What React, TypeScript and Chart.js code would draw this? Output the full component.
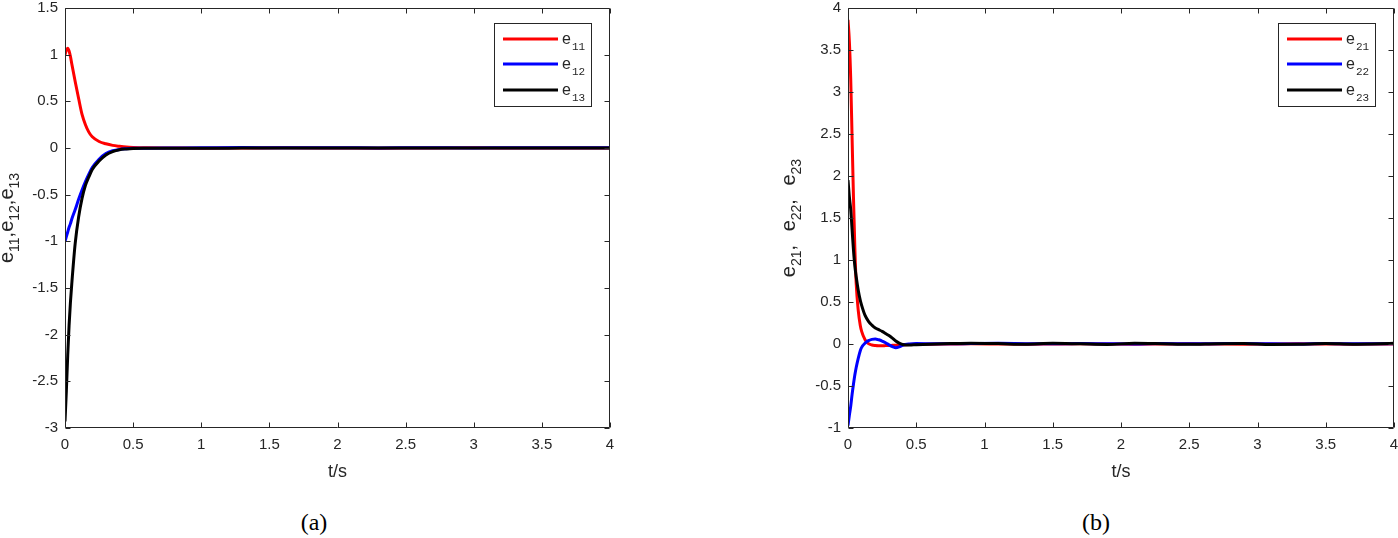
import React, { useEffect, useRef } from "react";
import { Chart, registerables } from "chart.js";
Chart.register(...registerables);

// ---------- data (a) ----------
const tA = [0, 0.01, 0.02, 0.03, 0.04, 0.05, 0.075, 0.1, 0.125, 0.15, 0.175, 0.2, 0.25, 0.3, 0.35, 0.4, 0.45, 0.5, 0.6, 0.8, 1.0, 1.3, 1.6, 2.0, 2.3, 2.6, 3.0, 3.3, 3.6, 4.0];
const e11 = [1.0, 1.05, 1.07, 1.04, 0.98, 0.9, 0.71, 0.53, 0.36, 0.25, 0.17, 0.12, 0.07, 0.045, 0.028, 0.018, 0.01, 0.006, 0.002, 0, -0.002, 0, 0.002, 0, -0.002, 0, 0.002, 0, -0.001, 0];
const e12 = [-1.0, -0.95, -0.9, -0.85, -0.81, -0.76, -0.66, -0.55, -0.45, -0.36, -0.28, -0.21, -0.12, -0.06, -0.03, -0.015, -0.008, -0.004, -0.002, 0, 0.002, 0.006, 0.002, 0.004, 0, 0.004, 0, 0.003, 0.002, 0.004];
const e13 = [-2.93, -2.6, -2.22, -1.9, -1.65, -1.45, -1.02, -0.74, -0.54, -0.4, -0.31, -0.23, -0.14, -0.075, -0.038, -0.018, -0.01, -0.005, -0.003, -0.002, -0.002, -0.001, 0, 0.001, -0.001, 0.001, -0.001, 0, -0.001, 0];

// ---------- data (b) ----------
const tB = [0, 0.01, 0.02, 0.03, 0.04, 0.05, 0.06, 0.075, 0.09, 0.1, 0.125, 0.15, 0.175, 0.2, 0.225, 0.25, 0.275, 0.3, 0.325, 0.35, 0.375, 0.4, 0.45, 0.5, 0.6, 0.75, 0.9, 1.1, 1.3, 1.5, 1.7, 1.9, 2.1, 2.3, 2.5, 2.7, 2.9, 3.1, 3.3, 3.5, 3.7, 3.9, 4.0];
const e21 = [3.86, 3.6, 3.15, 2.45, 1.75, 1.15, 0.72, 0.4, 0.22, 0.15, 0.05, 0.005, -0.012, -0.018, -0.02, -0.02, -0.019, -0.018, -0.016, -0.014, -0.012, -0.01, -0.006, -0.004, -0.002, 0, 0.002, 0, -0.002, 0, 0.002, 0, -0.002, 0, 0.002, 0, -0.002, 0, 0.002, 0, -0.002, 0, 0];
const e22 = [-0.97, -0.85, -0.74, -0.6, -0.48, -0.37, -0.28, -0.17, -0.08, -0.04, 0.01, 0.04, 0.055, 0.06, 0.05, 0.035, 0.015, -0.01, -0.03, -0.045, -0.035, -0.015, 0, 0.005, 0.004, 0.002, 0.005, 0.008, 0.004, 0.002, 0.006, 0.003, 0.001, 0.005, 0.002, 0.004, 0.006, 0.002, 0.001, 0.005, 0.002, 0.003, 0.002];
const e23 = [1.95, 1.75, 1.6, 1.36, 1.12, 0.93, 0.8, 0.64, 0.52, 0.46, 0.34, 0.27, 0.225, 0.19, 0.17, 0.15, 0.125, 0.1, 0.07, 0.035, 0.01, -0.005, -0.012, -0.008, -0.002, 0.005, 0.01, 0.005, -0.003, 0.008, 0.002, -0.005, 0.008, 0.003, -0.004, 0.004, 0.007, -0.005, -0.003, 0.005, -0.002, 0.003, 0.008];

// ---------- ticks ----------
const xTicks = [0, 0.5, 1, 1.5, 2, 2.5, 3, 3.5, 4];
const yTicksA = [-3, -2.5, -2, -1.5, -1, -0.5, 0, 0.5, 1, 1.5];
const yTicksB = [-1, -0.5, 0, 0.5, 1, 1.5, 2, 2.5, 3, 3.5, 4];

const legendA = [
  { base: "e", sub: "11", color: "#ff0000" },
  { base: "e", sub: "12", color: "#0000ff" },
  { base: "e", sub: "13", color: "#000000" },
];
const legendB = [
  { base: "e", sub: "21", color: "#ff0000" },
  { base: "e", sub: "22", color: "#0000ff" },
  { base: "e", sub: "23", color: "#000000" },
];
type Seg = { t: string; sub?: boolean; gap?: number };
const yTitleA: Seg[] = [
  { t: "e" }, { t: "11", sub: true }, { t: "," },
  { t: "e" }, { t: "12", sub: true }, { t: "," },
  { t: "e" }, { t: "13", sub: true },
];
const yTitleB: Seg[] = [
  { t: "e" }, { t: "21", sub: true }, { t: ", ", gap: 8 },
  { t: "e" }, { t: "22", sub: true }, { t: ", ", gap: 8 },
  { t: "e" }, { t: "23", sub: true },
];
const xTitle = "t/s";

const AX = "#262626";
const SANS = '"Liberation Sans", Arial, sans-serif';
const MAIN_FONT = `20px ${SANS}`;
const SUB_FONT = `14px ${SANS}`;

function decor(legend: typeof legendA, yTitle: Seg[], titleX: number) {
  return {
    id: "decor",
    afterDraw(chart: any) {
      const { ctx, chartArea: a, scales } = chart;
      const xs = scales.x, ys = scales.y;
      ctx.save();
      ctx.strokeStyle = AX;
      ctx.lineWidth = 1;
      const L = Math.round(a.left) + 0.5, R = Math.round(a.right) - 0.5;
      const T = Math.round(a.top) + 0.5, B = Math.round(a.bottom) - 0.5;
      ctx.beginPath();
      ctx.rect(L, T, R - L, B - T);
      for (const v of xTicks) {
        const p = Math.round(xs.getPixelForValue(v)) + 0.5;
        ctx.moveTo(p, B); ctx.lineTo(p, B - 5);
        ctx.moveTo(p, T); ctx.lineTo(p, T + 5);
      }
      for (const tk of ys.ticks) {
        const p = Math.round(ys.getPixelForValue(tk.value)) + 0.5;
        ctx.moveTo(L, p); ctx.lineTo(L + 5, p);
        ctx.moveTo(R, p); ctx.lineTo(R - 5, p);
      }
      ctx.stroke();

      // legend
      const bw = 97, bh = 83;
      const bx = Math.round(a.right) - 19 - bw, by = Math.round(a.top) + 15;
      ctx.fillStyle = "#ffffff";
      ctx.fillRect(bx, by, bw, bh);
      ctx.strokeStyle = AX;
      ctx.strokeRect(bx + 0.5, by + 0.5, bw, bh);
      const rows = [16, 41, 67];
      legend.forEach((it, i) => {
        const y = by + rows[i];
        ctx.strokeStyle = it.color;
        ctx.lineWidth = 3;
        ctx.beginPath();
        ctx.moveTo(bx + 9, y); ctx.lineTo(bx + 64, y);
        ctx.stroke();
        ctx.fillStyle = AX;
        ctx.textBaseline = "alphabetic";
        ctx.textAlign = "left";
        ctx.font = `16px ${SANS}`;
        ctx.fillText(it.base, bx + 68, y + 4.5);
        ctx.font = '11px "Liberation Mono", monospace';
        ctx.fillText(it.sub, bx + 78, y + 11);
      });

      // x title
      ctx.fillStyle = AX;
      ctx.font = `18px ${SANS}`;
      ctx.textAlign = "center";
      ctx.textBaseline = "middle";
      ctx.fillText(xTitle, (a.left + a.right) / 2, 472);

      // y title
      ctx.save();
      ctx.translate(titleX, (a.top + a.bottom) / 2);
      ctx.rotate(-Math.PI / 2);
      ctx.textAlign = "left";
      ctx.textBaseline = "alphabetic";
      let total = 0;
      const widths = yTitle.map((s) => {
        ctx.font = s.sub ? SUB_FONT : MAIN_FONT;
        const w = ctx.measureText(s.t).width + (s.gap || 0);
        total += w;
        return w;
      });
      let x = -total / 2;
      yTitle.forEach((s, i) => {
        ctx.font = s.sub ? SUB_FONT : MAIN_FONT;
        ctx.fillText(s.t, x, s.sub ? 6 : 0);
        x += widths[i];
      });
      ctx.restore();
      ctx.restore();
    },
  };
}

function pts(t: number[], v: number[]) {
  return t.map((x, i) => ({ x, y: v[i] }));
}

type PanelProps = {
  left: number; width: number; yWidth: number; padRight: number;
  t: number[]; series: number[][]; colors: string[]; yTicks: number[];
  legend: typeof legendA; yTitle: Seg[]; titleX: number;
};

const H = 490;

function Panel(p: PanelProps) {
  const ref = useRef<HTMLCanvasElement>(null);
  useEffect(() => {
    const orders = [3, 2, 1];
    const chart = new Chart(ref.current!, {
      type: "line",
      data: {
        datasets: p.series.map((s, i) => ({
          data: pts(p.t, s),
          borderColor: p.colors[i],
          backgroundColor: p.colors[i],
          borderWidth: 3,
          pointRadius: 0,
          fill: false,
          cubicInterpolationMode: "monotone" as const,
          order: orders[i],
        })),
      },
      options: {
        responsive: false,
        animation: false,
        layout: { padding: { left: 0, top: 8, right: p.padRight, bottom: 0 } },
        plugins: { legend: { display: false }, tooltip: { enabled: false } },
        scales: {
          x: {
            type: "linear",
            min: 0, max: 4,
            grid: { display: false, drawTicks: false },
            border: { display: false },
            ticks: {
              color: AX, font: { family: SANS, size: 15 }, padding: 8,
              autoSkip: false, maxRotation: 0,
              callback: (v: any) => String(v),
            },
            afterBuildTicks: (s: any) => { s.ticks = xTicks.map((v) => ({ value: v })); },
            afterFit: (s: any) => { s.height = H - 428; s.paddingLeft = 0; s.paddingRight = 0; },
          },
          y: {
            type: "linear",
            min: p.yTicks[0], max: p.yTicks[p.yTicks.length - 1],
            grid: { display: false, drawTicks: false },
            border: { display: false },
            ticks: {
              color: AX, font: { family: SANS, size: 15 }, padding: 7,
              autoSkip: false,
              callback: (v: any) => String(v),
            },
            afterBuildTicks: (s: any) => { s.ticks = p.yTicks.map((v) => ({ value: v })); },
            afterFit: (s: any) => { s.width = p.yWidth; s.paddingTop = 0; s.paddingBottom = 0; },
          },
        },
      },
      plugins: [decor(p.legend, p.yTitle, p.titleX)],
    } as any);
    return () => chart.destroy();
  }, []);
  return (
    <canvas
      ref={ref}
      width={p.width}
      height={H}
      style={{ position: "absolute", left: p.left, top: 0, width: p.width, height: H }}
    />
  );
}

const capStyle: React.CSSProperties = {
  position: "absolute", top: 507, width: 100, textAlign: "center",
  fontFamily: '"Liberation Serif", "Times New Roman", serif', fontSize: 24, lineHeight: "30px", color: "#000",
};

export default function App() {
  return (
    <div style={{ position: "absolute", left: 0, top: 0, width: 1398, height: 538, overflow: "hidden", background: "#fff" }}>
      <Panel left={0} width={700} yWidth={65} padRight={90} t={tA} series={[e11, e12, e13]}
        colors={["#ff0000", "#0000ff", "#000000"]} yTicks={yTicksA} legend={legendA} yTitle={yTitleA} titleX={13} />
      <Panel left={700} width={698} yWidth={148} padRight={4} t={tB} series={[e21, e22, e23]}
        colors={["#ff0000", "#0000ff", "#000000"]} yTicks={yTicksB} legend={legendB} yTitle={yTitleB} titleX={95} />
      <div style={{ ...capStyle, left: 264 }}>(a)</div>
      <div style={{ ...capStyle, left: 1046 }}>(b)</div>
    </div>
  );
}
